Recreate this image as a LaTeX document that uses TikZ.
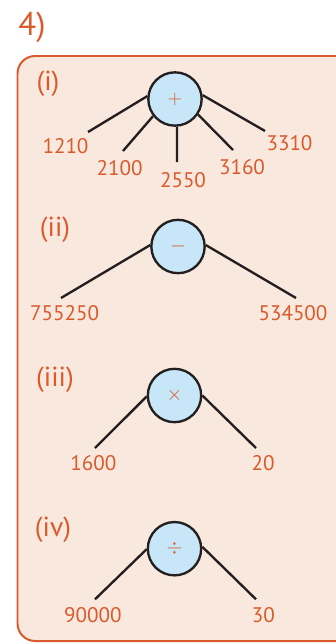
\documentclass[tikz,border=0pt]{standalone}
\usepackage{fontspec}
\setmainfont{PT Sans}
\definecolor{tomato}{HTML}{DA5A2C}
\definecolor{peach}{HTML}{F9E8DD}
\definecolor{skyfill}{HTML}{C7E7F8}
\definecolor{inkline}{HTML}{231F20}

\begin{document}
\begin{tikzpicture}[x=0.03cm,y=-0.03cm,
  op/.style={draw=inkline,line width=2pt,circle,fill=skyfill,minimum size=1.6cm,inner sep=0pt,text=tomato,font=\fontsize{16}{18}\selectfont},
  num/.style={text=tomato,inner sep=0pt,font=\fontsize{18}{20}\selectfont},
  part/.style={text=tomato,inner sep=0pt,font=\fontsize{23.5}{26}\selectfont},
  branch/.style={draw=inkline,line width=2pt}]
  \useasboundingbox (0,0) rectangle (335,643);
  \node[part,font=\fontsize{28}{30}\selectfont] (head) at (32,27) {4)};
  \draw[draw=tomato,fill=peach,line width=1.7pt,rounded corners=15pt] (17.5,56) rectangle (360,641);
  % (i)
  \node[part] (pi) at (48,84) {(i)};
  \node[op] (add) at (175,99) {$+$};
  \coordinate (a1) at (88,132);
  \coordinate (a2) at (123,151);
  \coordinate (a3) at (177,162);
  \coordinate (a4) at (233,150);
  \coordinate (a5) at (265,131);
  \draw[branch] (add.174) -- (a1);
  \draw[branch] (add.218) -- (a2);
  \draw[branch] (add.274) -- (a3);
  \draw[branch] (add.326) -- (a4);
  \draw[branch] (add.8) -- (a5);
  \node[num] (n1210) at (65.5,146) {1210};
  \node[num] (n2100) at (119.7,168) {2100};
  \node[num] (n2550) at (183,180) {2550};
  \node[num] (n3160) at (242,167) {3160};
  \node[num] (n3310) at (289.5,143) {3310};
  % (ii)
  \node[part] (pii) at (55,230) {(ii)};
  \node[op] (sub) at (178,246.5) {$-$};
  \coordinate (s1) at (61,298);
  \coordinate (s2) at (296,298);
  \draw[branch] (sub.177) -- (s1);
  \draw[branch] (sub.3) -- (s2);
  \node[num] (n755250) at (64.7,313) {755250};
  \node[num] (n534500) at (293,313) {534500};
  % (iii)
  \node[part] (piii) at (55,380) {(iii)};
  \node[op] (mul) at (174.5,395.5) {$\times$};
  \coordinate (m1) at (95,448);
  \coordinate (m2) at (256,448);
  \draw[branch] (mul.182) -- (m1);
  \draw[branch] (mul.0) -- (m2);
  \node[num] (n1600) at (93.3,463) {1600};
  \node[num] (n20) at (263,463) {20};
  % (iv)
  \node[part] (piv) at (53,530) {(iv)};
  \node[op] (dvd) at (174.5,548.7) {$\div$};
  \coordinate (d1) at (95,599.3);
  \coordinate (d2) at (256,599.3);
  \draw[branch] (dvd.181) -- (d1);
  \draw[branch] (dvd.4) -- (d2);
  \node[num] (n90000) at (92.8,615) {90000};
  \node[num] (n30) at (263.3,615) {30};
\end{tikzpicture}
\end{document}
